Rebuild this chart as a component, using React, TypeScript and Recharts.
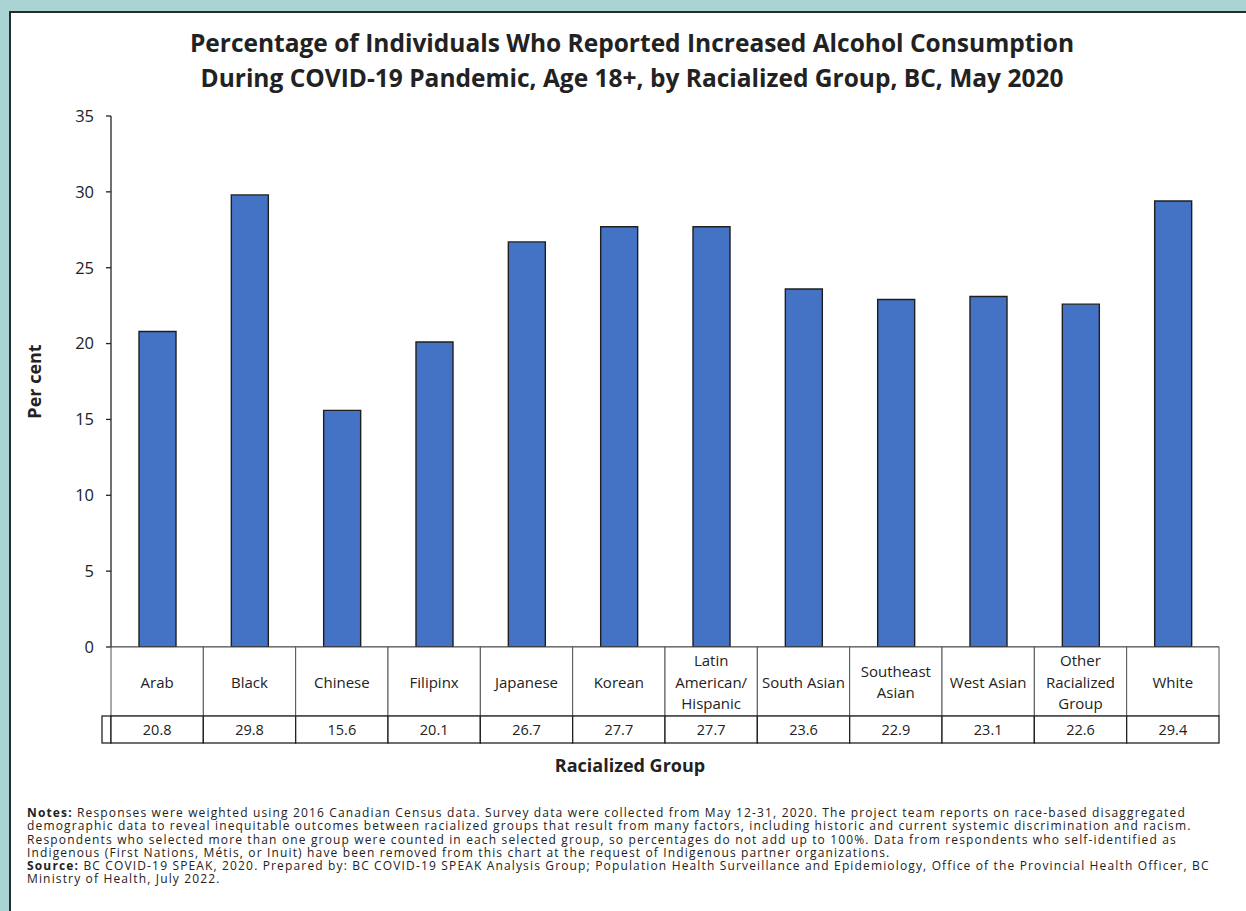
import React from "react";
import { BarChart, Bar, XAxis, YAxis, Label } from "recharts";

// Survey results, per cent reporting increased alcohol use
const groups = [
  "Arab",
  "Black",
  "Chinese",
  "Filipinx",
  "Japanese",
  "Korean",
  "Latin\nAmerican/\nHispanic",
  "South Asian",
  "Southeast\nAsian",
  "West Asian",
  "Other\nRacialized\nGroup",
  "White",
];
const percents = [20.8, 29.8, 15.6, 20.1, 26.7, 27.7, 27.7, 23.6, 22.9, 23.1, 22.6, 29.4];
const yTicks = [0, 5, 10, 15, 20, 25, 30, 35];

const titleLines = [
  "Percentage of Individuals Who Reported Increased Alcohol Consumption",
  "During COVID-19 Pandemic, Age 18+, by Racialized Group, BC, May 2020",
];

const noteLines: [string, string][] = [
  ["Notes:", " Responses were weighted using 2016 Canadian Census data. Survey data were collected from May 12-31, 2020. The project team reports on race-based disaggregated"],
  ["", "demographic data to reveal inequitable outcomes between racialized groups that result from many factors, including historic and current systemic discrimination and racism."],
  ["", "Respondents who selected more than one group were counted in each selected group, so percentages do not add up to 100%. Data from respondents who self-identified as"],
  ["", "Indigenous (First Nations, Métis, or Inuit) have been removed from this chart at the request of Indigenous partner organizations."],
  ["Source:", " BC COVID-19 SPEAK, 2020. Prepared by: BC COVID-19 SPEAK Analysis Group; Population Health Surveillance and Epidemiology, Office of the Provincial Health Officer, BC"],
  ["", "Ministry of Health, July 2022."],
];

const FONT = "'Open Sans', 'Noto Sans', sans-serif";
const INK = "#222";

const W = 1246;
const H = 911;
const PLOT_LEFT = 111;
const PLOT_RIGHT = 1219;
const PLOT_TOP = 116;
const PLOT_BOTTOM = 647;
const Y_AXIS_W = 60;
const X_AXIS_H = 100;
const BAND = (PLOT_RIGHT - PLOT_LEFT) / groups.length;
const LABEL_ROW = 69;
const VALUE_ROW = 27;
const LINE_H = 21.5;

const data = groups.map((g, i) => ({ group: g, value: percents[i] }));

// Each x tick draws one column of the data table under the bars
function TableTick(props: any) {
  const { x, y, payload, index } = props;
  const left = x - BAND / 2;
  const lines = String(payload.value).split("\n");
  const midLabel = y + LABEL_ROW / 2;
  const firstLine = midLabel - ((lines.length - 1) * LINE_H) / 2;
  const vy = y + LABEL_ROW;
  return (
    <g>
      <rect x={left} y={y} width={BAND} height={LABEL_ROW} fill="#fff" stroke="#555" strokeWidth={1} />
      {lines.map((ln, k) => (
        <text
          key={k}
          x={x}
          y={firstLine + k * LINE_H}
          textAnchor="middle"
          dominantBaseline="central"
          fontFamily={FONT}
          fontSize={15}
          fill={INK}
        >
          {ln}
        </text>
      ))}
      {index === 0 && (
        <rect x={left - 9} y={vy} width={9} height={VALUE_ROW} fill="#fff" stroke={INK} strokeWidth={1.3} />
      )}
      <rect x={left} y={vy} width={BAND} height={VALUE_ROW} fill="#fff" stroke={INK} strokeWidth={1.3} />
      <text
        x={x}
        y={vy + VALUE_ROW / 2}
        textAnchor="middle"
        dominantBaseline="central"
        fontFamily={FONT}
        fontSize={14.5}
        fill={INK}
      >
        {percents[index].toFixed(1)}
      </text>
    </g>
  );
}

export default function App() {
  return (
    <div
      style={{
        position: "absolute",
        left: 0,
        top: 0,
        width: W,
        height: H,
        overflow: "hidden",
        background: "#aad4d3",
        fontFamily: FONT,
        color: INK,
      }}
    >
      <div
        style={{
          position: "absolute",
          left: 9,
          top: 11,
          width: W,
          height: H,
          background: "#fff",
          borderTop: "2px solid #2b2b2b",
          borderLeft: "2px solid #2b2b2b",
        }}
      />
      <div
        style={{
          position: "absolute",
          left: 0,
          top: 25,
          width: 1264,
          textAlign: "center",
          fontWeight: 700,
          fontSize: 24.5,
          lineHeight: "35px",
        }}
      >
        {titleLines.map((t) => (
          <div key={t}>{t}</div>
        ))}
      </div>
      <div style={{ position: "absolute", left: 0, top: 0 }}>
        <BarChart
          width={W}
          height={H}
          data={data}
          margin={{
            top: PLOT_TOP,
            right: W - PLOT_RIGHT,
            left: PLOT_LEFT - Y_AXIS_W,
            bottom: H - PLOT_BOTTOM - X_AXIS_H,
          }}
        >
          <XAxis
            dataKey="group"
            interval={0}
            height={X_AXIS_H}
            tickLine={false}
            tickSize={0}
            tickMargin={0}
            axisLine={{ stroke: INK }}
            tick={<TableTick />}
          />
          <YAxis
            width={Y_AXIS_W}
            domain={[0, 35]}
            ticks={yTicks}
            interval={0}
            tickSize={5}
            tickMargin={12}
            axisLine={{ stroke: INK, strokeWidth: 1.3 }}
            tickLine={{ stroke: INK, strokeWidth: 1.3 }}
            tick={{ fontSize: 16.5, fill: INK, fontFamily: FONT }}
          >
            <Label
              value="Per cent"
              angle={-90}
              position="insideLeft"
              offset={-16}
              style={{ fontWeight: 700, fontSize: 18, fill: INK, fontFamily: FONT, textAnchor: "middle" }}
            />
          </YAxis>
          <Bar
            dataKey="value"
            barSize={37}
            fill="#4472c4"
            stroke="#1f1f1f"
            strokeWidth={1.4}
            isAnimationActive={false}
          />
        </BarChart>
      </div>
      <div
        style={{
          position: "absolute",
          left: 0,
          top: 753,
          width: 1260,
          textAlign: "center",
          fontWeight: 700,
          fontSize: 18,
        }}
      >
        Racialized Group
      </div>
      <div
        style={{
          position: "absolute",
          left: 27,
          top: 806,
          fontSize: 12,
          letterSpacing: 1.15,
          lineHeight: "13.3px",
          whiteSpace: "nowrap",
        }}
      >
        {noteLines.map(([b, t], i) => (
          <div key={i}>
            {b && <b>{b}</b>}
            {t}
          </div>
        ))}
      </div>
    </div>
  );
}
